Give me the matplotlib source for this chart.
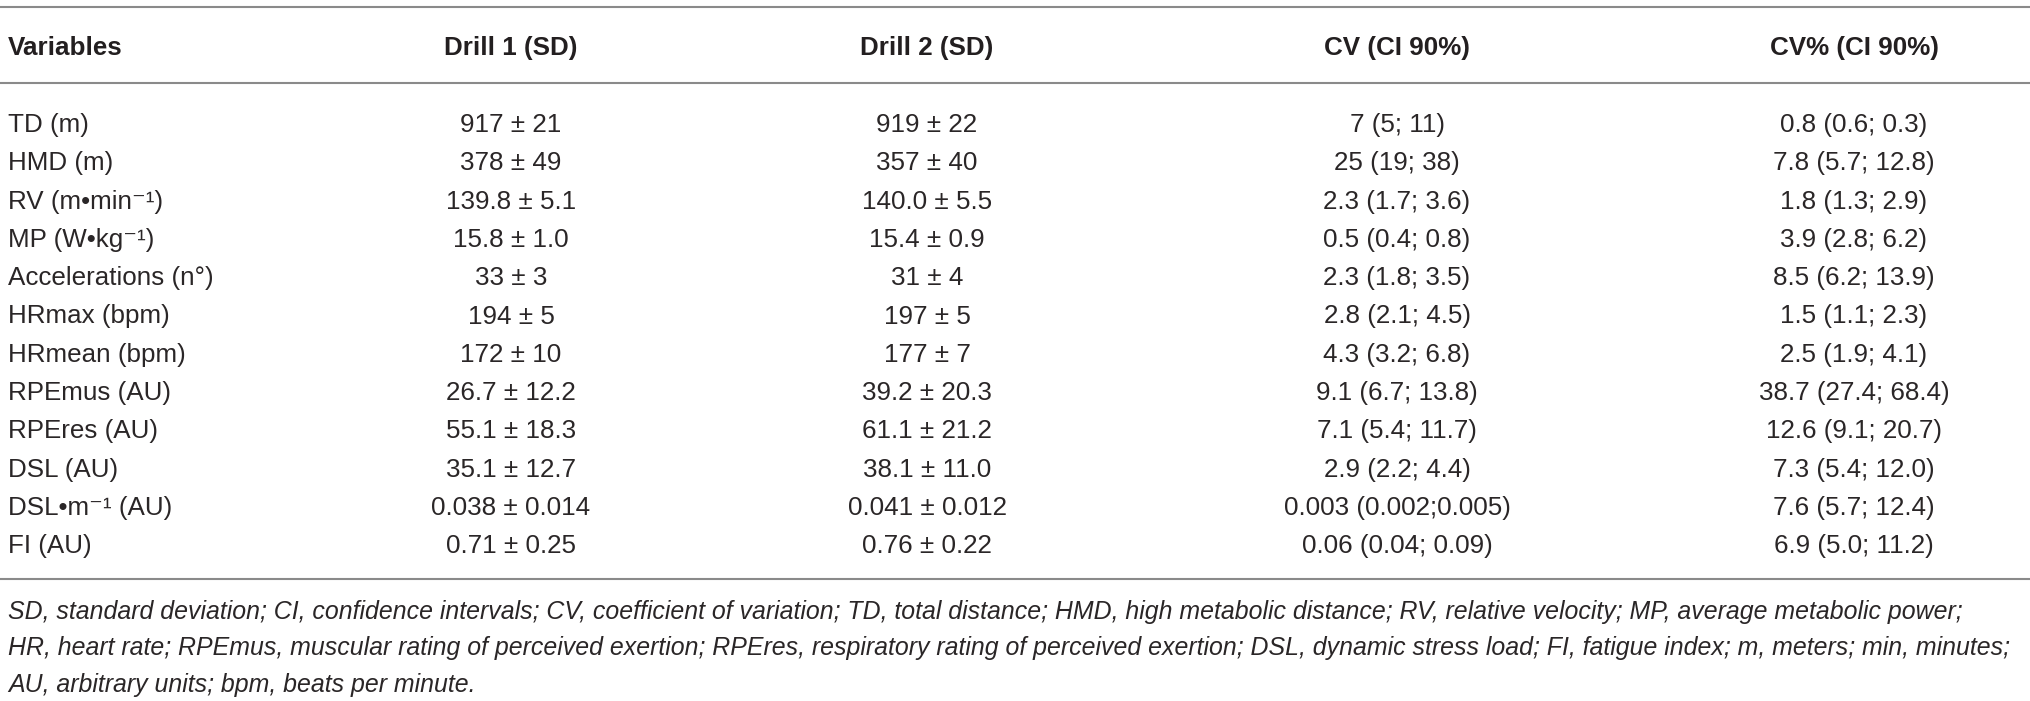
import matplotlib
matplotlib.use("Agg")
import matplotlib.pyplot as plt

# ---- table content ----
headers = ["Variables", "Drill 1 (SD)", "Drill 2 (SD)", "CV (CI 90%)", "CV% (CI 90%)"]
variables = ["TD (m)", "HMD (m)", "RV (m\u2022min\u207b\u00b9)", "MP (W\u2022kg\u207b\u00b9)",
             "Accelerations (n\u00b0)", "HRmax (bpm)", "HRmean (bpm)", "RPEmus (AU)",
             "RPEres (AU)", "DSL (AU)", "DSL\u2022m\u207b\u00b9 (AU)", "FI (AU)"]
drill1_mean = ["917", "378", "139.8", "15.8", "33", "194", "172", "26.7", "55.1", "35.1", "0.038", "0.71"]
drill1_sd = ["21", "49", "5.1", "1.0", "3", "5", "10", "12.2", "18.3", "12.7", "0.014", "0.25"]
drill2_mean = ["919", "357", "140.0", "15.4", "31", "197", "177", "39.2", "61.1", "38.1", "0.041", "0.76"]
drill2_sd = ["22", "40", "5.5", "0.9", "4", "5", "7", "20.3", "21.2", "11.0", "0.012", "0.22"]
cv = ["7 (5; 11)", "25 (19; 38)", "2.3 (1.7; 3.6)", "0.5 (0.4; 0.8)", "2.3 (1.8; 3.5)",
      "2.8 (2.1; 4.5)", "4.3 (3.2; 6.8)", "9.1 (6.7; 13.8)", "7.1 (5.4; 11.7)",
      "2.9 (2.2; 4.4)", "0.003 (0.002;0.005)", "0.06 (0.04; 0.09)"]
cv_pct = ["0.8 (0.6; 0.3)", "7.8 (5.7; 12.8)", "1.8 (1.3; 2.9)", "3.9 (2.8; 6.2)",
          "8.5 (6.2; 13.9)", "1.5 (1.1; 2.3)", "2.5 (1.9; 4.1)", "38.7 (27.4; 68.4)",
          "12.6 (9.1; 20.7)", "7.3 (5.4; 12.0)", "7.6 (5.7; 12.4)", "6.9 (5.0; 11.2)"]
footnotes = [
    "SD, standard deviation; CI, confidence intervals; CV, coefficient of variation; TD, total distance; "
    "HMD, high metabolic distance; RV, relative velocity; MP, average metabolic power;",
    "HR, heart rate; RPEmus, muscular rating of perceived exertion; RPEres, respiratory rating of perceived "
    "exertion; DSL, dynamic stress load; FI, fatigue index; m, meters; min, minutes;",
    "AU, arbitrary units; bpm, beats per minute.",
]

# ---- layout (pixels) ----
W, H = 2031, 701
col_x = [8, 511, 927, 1397, 1854]
header_base = 55
row_base0 = 132
row_step = 38.3
foot_base0 = 619
foot_step = 36.5
rules_y = [7, 83, 579]

FAM = ["Liberation Sans", "DejaVu Sans"]
FS = 18.7
FS_FOOT = 17.95
TXT = "#2a2627"

fig = plt.figure(figsize=(W / 100, H / 100), dpi=100)
ax = fig.add_axes([0, 0, 1, 1])
ax.set_xlim(0, W)
ax.set_ylim(H, 0)
ax.axis("off")

for y in rules_y:
    ax.axhline(y, color="#8a8a8a", lw=1.5)

for i, h in enumerate(headers):
    ax.text(col_x[i], header_base, h, ha="left" if i == 0 else "center", va="baseline",
            fontsize=FS, fontweight="bold", family=FAM, color="#231f20")

for r in range(len(variables)):
    y = row_base0 + r * row_step
    cells = [variables[r],
             f"{drill1_mean[r]} \u00b1 {drill1_sd[r]}",
             f"{drill2_mean[r]} \u00b1 {drill2_sd[r]}",
             cv[r], cv_pct[r]]
    for i, c in enumerate(cells):
        ax.text(col_x[i], y, c, ha="left" if i == 0 else "center", va="baseline",
                fontsize=FS, family=FAM, color=TXT)

for j, line in enumerate(footnotes):
    ax.text(col_x[0], foot_base0 + j * foot_step, line, ha="left", va="baseline",
            fontsize=FS_FOOT, style="italic", family=FAM, color=TXT)

fig.savefig("out.png", dpi=100)
